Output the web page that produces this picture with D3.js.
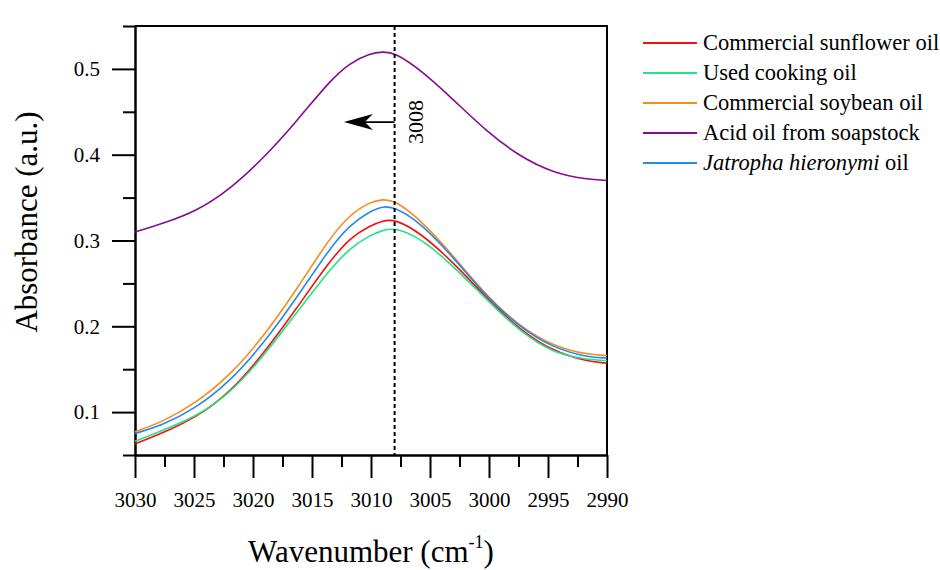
<!DOCTYPE html>
<html>
<head>
<meta charset="utf-8">
<script src="https://cdn.jsdelivr.net/npm/d3@7"></script>
<style>
  body { margin: 0; background: #fff; }
  svg { display: block; }
</style>
</head>
<body>
<div id="chart"></div>
<script>
// wavenumbers (cm-1), high to low as they run left to right
const wavenumbers = [3030, 3027.6, 3024.8, 3022, 3019.1, 3016.3, 3013.5, 3011.8, 3010.1, 3009, 3008, 3005.8, 3003, 3000.2, 2997.4, 2994.6, 2991.7, 2990]

const sunflower = [0.063, 0.076, 0.094, 0.122, 0.168, 0.221, 0.276, 0.303, 0.317, 0.323, 0.325, 0.309, 0.274, 0.233, 0.196, 0.171, 0.159, 0.157]
const usedCooking = [0.066, 0.079, 0.095, 0.121, 0.165, 0.216, 0.266, 0.291, 0.306, 0.312, 0.315, 0.303, 0.270, 0.231, 0.194, 0.169, 0.161, 0.160]
const soybean = [0.077, 0.089, 0.111, 0.142, 0.188, 0.243, 0.303, 0.330, 0.345, 0.348, 0.347, 0.324, 0.282, 0.235, 0.200, 0.177, 0.167, 0.166]
const acidOil = [0.310, 0.320, 0.334, 0.359, 0.396, 0.439, 0.486, 0.507, 0.518, 0.520, 0.519, 0.499, 0.464, 0.427, 0.398, 0.379, 0.371, 0.370]
const jatropha = [0.075, 0.085, 0.105, 0.135, 0.180, 0.233, 0.291, 0.318, 0.334, 0.340, 0.339, 0.321, 0.280, 0.234, 0.199, 0.175, 0.164, 0.163]

const seriesNames = ['Commercial sunflower oil', 'Used cooking oil', 'Commercial soybean oil', 'Acid oil from soapstock', 'Jatropha hieronymi oil']

const xMajorTicks = [3030, 3025, 3020, 3015, 3010, 3005, 3000, 2995, 2990]
const xMinorTicks = [3027.5, 3022.5, 3017.5, 3012.5, 3007.5, 3002.5, 2997.5, 2992.5]
const yMajorTicks = [0.1, 0.2, 0.3, 0.4, 0.5]
const yMinorTicks = [0.05, 0.15, 0.25, 0.35, 0.45, 0.55]

const peakLine = 3008
const arrowTo = 3012.3
const arrowLevel = 0.438

const series = [
  { name: seriesNames[0], values: sunflower, color: '#f50f0f' },
  { name: seriesNames[1], values: usedCooking, color: '#1ee585' },
  { name: seriesNames[2], values: soybean, color: '#fb8a1a' },
  { name: seriesNames[3], values: acidOil, color: '#880c8e' },
  { name: seriesNames[4], values: jatropha, color: '#2389ef' }
]

const serif = '"Liberation Serif", "Times New Roman", serif'

const margin = { top: 26, right: 333, bottom: 115, left: 135 }
const svgWidth = 940, svgHeight = 570
const width = svgWidth - margin.left - margin.right
const height = svgHeight - margin.top - margin.bottom

let svg = d3.select('#chart')
    .append('svg')
    .attr('width', svgWidth)
    .attr('height', svgHeight)

let canvas = svg.append('g')
    .attr('transform', 'translate(' + margin.left + ',' + margin.top + ')')

let x = d3.scaleLinear().domain([3030, 2990]).range([0, width])
let y = d3.scaleLinear().domain([0.05, 0.55]).range([height, 0])

function styleAxis(g, size) {
  g.select('.domain').attr('stroke-width', 2)
  g.selectAll('.tick line').attr('stroke-width', 2)
  g.selectAll('text').attr('font-family', serif).attr('font-size', size).attr('fill', '#000')
}

// minor ticks first, majors and labels on top
canvas.append('g')
    .attr('transform', 'translate(0,' + height + ')')
    .call(d3.axisBottom(x).tickValues(xMinorTicks).tickSize(12).tickSizeOuter(0).tickFormat(''))
    .call(g => styleAxis(g, 21))

canvas.append('g')
    .attr('transform', 'translate(0,' + height + ')')
    .call(d3.axisBottom(x).tickValues(xMajorTicks).tickSize(23).tickSizeOuter(0).tickPadding(14).tickFormat(d3.format('d')))
    .call(g => styleAxis(g, 21))

canvas.append('g')
    .call(d3.axisLeft(y).tickValues(yMinorTicks).tickSize(12).tickSizeOuter(0).tickFormat(''))
    .call(g => styleAxis(g, 21))

canvas.append('g')
    .call(d3.axisLeft(y).tickValues(yMajorTicks).tickSize(23).tickSizeOuter(0).tickPadding(12).tickFormat(d3.format('.1f')))
    .call(g => styleAxis(g, 21))

// top and right of the frame
canvas.append('path')
    .attr('fill', 'none')
    .attr('stroke', '#000')
    .attr('stroke-width', 2)
    .attr('d', 'M0,0H' + width + 'V' + height)

// curves (basis spline smooths out reading noise)
let line = d3.line()
    .x((d, i) => x(wavenumbers[i]))
    .y(d => y(d))
    .curve(d3.curveBasis)

for (let s of series) {
  canvas.append('path')
      .datum(s.values)
      .attr('fill', 'none')
      .attr('stroke', s.color)
      .attr('stroke-width', 1.6)
      .attr('stroke-linejoin', 'round')
      .attr('d', line)
}

// dashed marker at 3008
canvas.append('line')
    .attr('x1', x(peakLine)).attr('x2', x(peakLine))
    .attr('y1', 0).attr('y2', height)
    .attr('stroke', '#000')
    .attr('stroke-width', 2)
    .attr('stroke-dasharray', '4,3')

canvas.append('text')
    .attr('transform', 'translate(' + (x(peakLine) + 28) + ',' + y(arrowLevel) + ') rotate(-90)')
    .attr('text-anchor', 'middle')
    .attr('font-family', serif)
    .attr('font-size', 22)
    .text(String(peakLine))

// arrow pointing to higher wavenumber
const ax = x(arrowTo), ay = y(arrowLevel)
canvas.append('line')
    .attr('x1', x(peakLine)).attr('x2', ax + 12)
    .attr('y1', ay).attr('y2', ay)
    .attr('stroke', '#000')
    .attr('stroke-width', 1.6)

canvas.append('path')
    .attr('fill', '#000')
    .attr('d', 'M' + ax + ',' + ay + 'L' + (ax + 29) + ',' + (ay - 8) + 'L' + (ax + 21) + ',' + ay + 'L' + (ax + 29) + ',' + (ay + 8) + 'Z')

// axis titles
svg.append('text')
    .attr('transform', 'translate(37,222) rotate(-90)')
    .attr('text-anchor', 'middle')
    .attr('font-family', serif)
    .attr('font-size', 31)
    .text('Absorbance (a.u.)')

let xt = svg.append('text')
    .attr('x', margin.left + width / 2)
    .attr('y', 562)
    .attr('text-anchor', 'middle')
    .attr('font-family', serif)
    .attr('font-size', 31)
xt.append('tspan').text('Wavenumber (cm')
xt.append('tspan').attr('font-size', 18).attr('dy', -14).text('-1')
xt.append('tspan').attr('dy', 14).text(')')

// legend
let legend = svg.append('g').attr('transform', 'translate(643,43)')
series.forEach((s, i) => {
  let row = legend.append('g').attr('transform', 'translate(0,' + (i * 30) + ')')
  row.append('line')
      .attr('x1', 0).attr('x2', 54)
      .attr('stroke', s.color)
      .attr('stroke-width', 2)
  let t = row.append('text')
      .attr('x', 60)
      .attr('y', 7)
      .attr('font-family', serif)
      .attr('font-size', 22.5)
  if (i === 4) {
    t.append('tspan').attr('font-style', 'italic').text('Jatropha hieronymi')
    t.append('tspan').text(' oil')
  } else {
    t.text(s.name)
  }
})
</script>
</body>
</html>
